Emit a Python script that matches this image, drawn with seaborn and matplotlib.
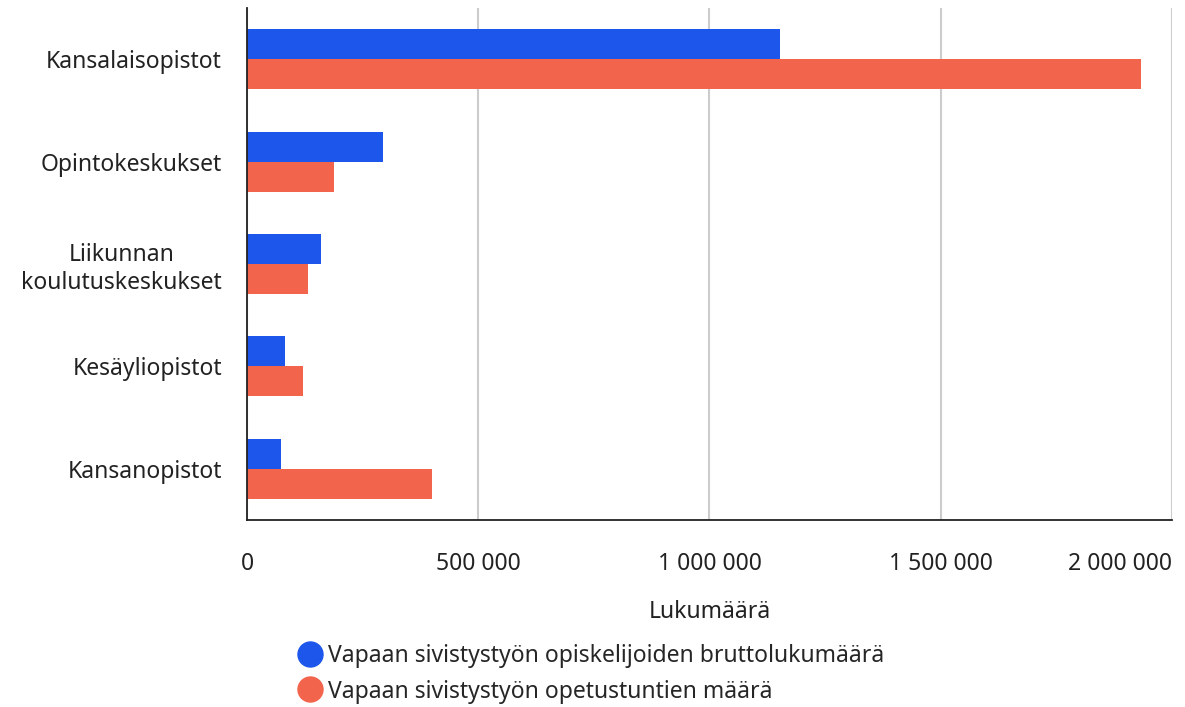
import pandas as pd
import seaborn as sns
import matplotlib.pyplot as plt
from matplotlib.lines import Line2D
from matplotlib.ticker import FuncFormatter

# Values
categories = ["Kansalaisopistot", "Opintokeskukset", "Liikunnan\nkoulutuskeskukset",
              "Kesäyliopistot", "Kansanopistot"]
students = [1153000, 295000, 159500, 81500, 74300]
hours = [1934000, 187600, 132800, 122000, 401000]
series_names = ["Vapaan sivistystyön opiskelijoiden bruttolukumäärä",
                "Vapaan sivistystyön opetustuntien määrä"]
colors = ["#1c56eb", "#f2644c"]
x_ticks = [0, 500000, 1000000, 1500000, 2000000]

df = pd.DataFrame({
    "category": categories * 2,
    "value": students + hours,
    "series": [series_names[0]] * len(categories) + [series_names[1]] * len(categories),
})

sns.set_style("white")
plt.rcParams["font.family"] = ["Noto Sans", "DejaVu Sans"]
FS = 16.5

fig = plt.figure(figsize=(11.85, 7.07), dpi=100)
ax = fig.add_axes([0.2084, 0.2645, 0.7806, 0.7242])

sns.barplot(data=df, x="value", y="category", hue="series", order=categories,
            hue_order=series_names, palette=colors, width=0.586, orient="h",
            saturation=1, legend=False, linewidth=0, ax=ax)

ax.set_xlim(0, 2000000)
ax.set_xticks(x_ticks)
ax.xaxis.set_major_formatter(FuncFormatter(lambda v, p: f"{int(v):,}".replace(",", " ")))
ax.grid(axis="x", color="#cccccc", linewidth=1.5)
ax.set_axisbelow(True)
for s in ["top", "right"]:
    ax.spines[s].set_visible(False)
for s in ["left", "bottom"]:
    ax.spines[s].set_color("#222222")
    ax.spines[s].set_linewidth(1.3)

ax.tick_params(axis="x", length=0, pad=23, labelsize=FS, colors="#222222")
ax.tick_params(axis="y", length=0, pad=18, labelsize=FS, colors="#222222")
for lbl in ax.get_yticklabels():
    lbl.set_multialignment("center")
ax.get_xticklabels()[-1].set_horizontalalignment("right")

ax.set_ylabel("")
ax.set_xlabel("Lukumäärä", fontsize=FS, color="#222222", labelpad=17)

handles = [Line2D([0], [0], marker="o", linestyle="", markersize=18,
                  markerfacecolor=c, markeredgecolor=c) for c in colors]
fig.legend(handles, series_names, loc="center left", bbox_to_anchor=(0.244, 0.047),
           frameon=False, fontsize=FS, handletextpad=0.3, labelspacing=0.5,
           handlelength=1.0, borderaxespad=0)

fig.savefig("out.png", dpi=100)
